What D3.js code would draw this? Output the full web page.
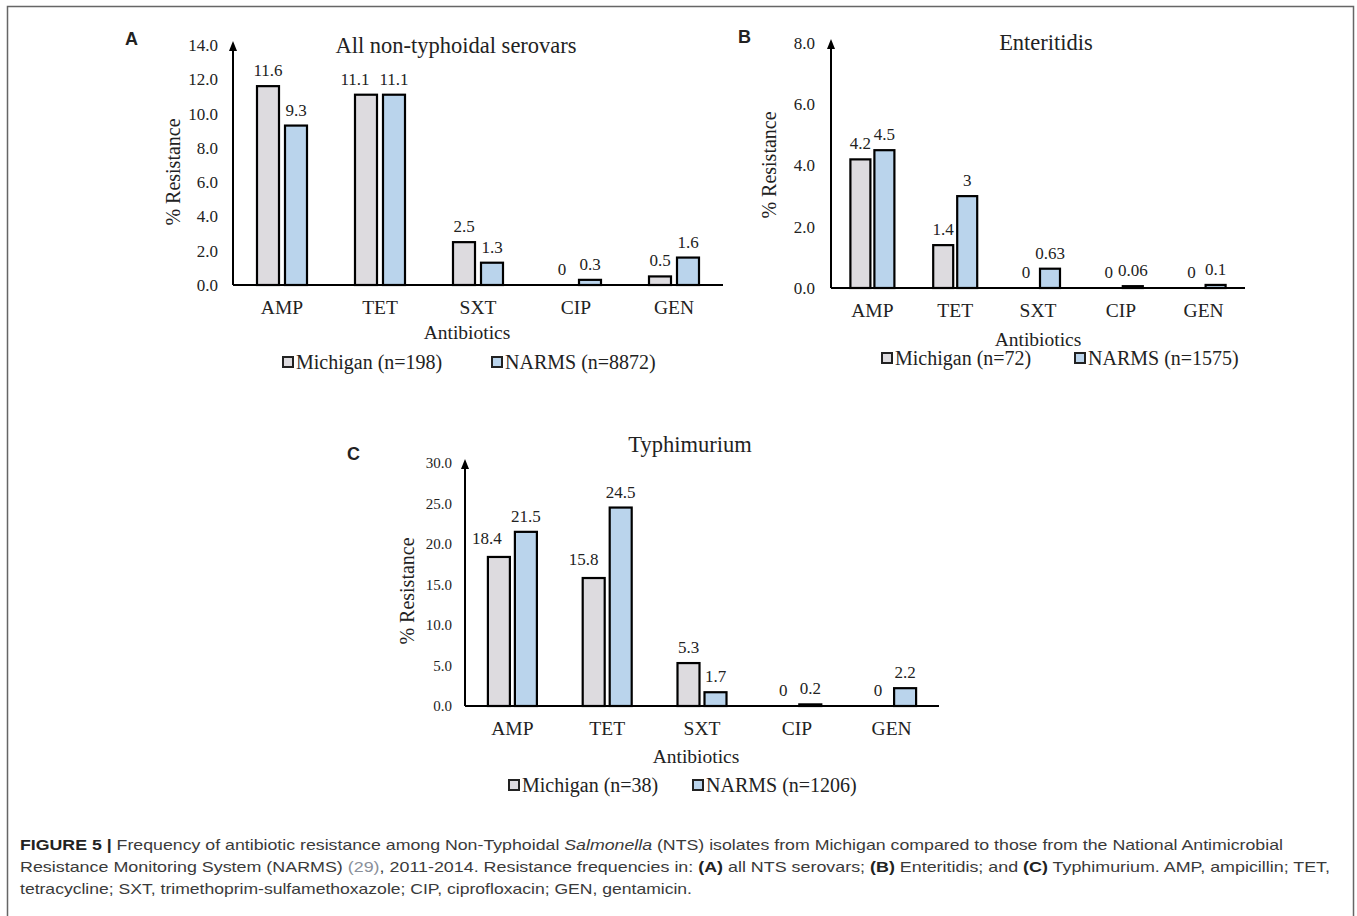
<!DOCTYPE html>
<html>
<head>
<meta charset="utf-8">
<script src="https://cdn.jsdelivr.net/npm/d3@7"></script>
<style>
  body { margin: 0; background: #fff; }
  svg text { font-family: "Liberation Serif", "Times New Roman", serif; fill: #222; }
  svg text.sans { font-family: "Liberation Sans", Arial, sans-serif; }
</style>
</head>
<body>
<div id="chart"></div>
<script>
// Data
const categories = ["AMP", "TET", "SXT", "CIP", "GEN"];
const seriesNames = ["Michigan", "NARMS"];

const allMichigan = [11.6, 11.1, 2.5, 0, 0.5];
const allNarms = [9.3, 11.1, 1.3, 0.3, 1.6];
const allLegend = ["Michigan (n=198)", "NARMS (n=8872)"];
const allTicks = [0, 2, 4, 6, 8, 10, 12, 14];

const entMichigan = [4.2, 1.4, 0, 0, 0];
const entNarms = [4.5, 3, 0.63, 0.06, 0.1];
const entLegend = ["Michigan (n=72)", "NARMS (n=1575)"];
const entTicks = [0, 2, 4, 6, 8];

const typMichigan = [18.4, 15.8, 5.3, 0, 0];
const typNarms = [21.5, 24.5, 1.7, 0.2, 2.2];
const typLegend = ["Michigan (n=38)", "NARMS (n=1206)"];
const typTicks = [0, 5, 10, 15, 20, 25, 30];

const colors = {Michigan: "#dddbdf", NARMS: "#bad4ec"};

const W = 1357, H = 916;
const svg = d3.select("#chart").append("svg")
    .attr("width", W)
    .attr("height", H);

// outer frame
svg.append("rect")
    .attr("x", 7.5).attr("y", 6.5)
    .attr("width", 1346).attr("height", 1000)
    .attr("fill", "none")
    .attr("stroke", "#666")
    .attr("stroke-width", 1.5);

const panels = [
    {
        letter: "A", title: "All non-typhoidal serovars",
        mich: allMichigan, narms: allNarms, legend: allLegend, ticks: allTicks,
        x0: 233, x1: 723, base: 285, top: 45, tickSize: 17, tickGap: 15,
        barW: 22, gap: 6,
        letterPos: [125, 45], titlePos: [456, 53],
        yLabelPos: [180, 172], xLabelPos: [467, 339], legendY: 362,
        legendX: [282, 491],
        nudge: {TET: [-11, 0]}
    },
    {
        letter: "B", title: "Enteritidis",
        mich: entMichigan, narms: entNarms, legend: entLegend, ticks: entTicks,
        x0: 831, x1: 1245, base: 288, top: 43, tickSize: 17, tickGap: 16,
        barW: 20, gap: 4,
        letterPos: [738, 43], titlePos: [1046, 50],
        yLabelPos: [776, 165], xLabelPos: [1038, 346], legendY: 358,
        legendX: [881, 1074],
        nudge: {}
    },
    {
        letter: "C", title: "Typhimurium",
        mich: typMichigan, narms: typNarms, legend: typLegend, ticks: typTicks,
        x0: 465, x1: 939, base: 706, top: 463, tickSize: 15, tickGap: 13,
        barW: 22, gap: 5,
        letterPos: [347, 460], titlePos: [690, 452],
        yLabelPos: [414, 591], xLabelPos: [696, 763], legendY: 785,
        legendX: [508, 692],
        nudge: {AMP: [-12, -3], TET: [-10, -3]}
    }
];

panels.forEach(p => {
    const g = svg.append("g");
    const rows = categories.map((c, i) => ({cat: c, Michigan: p.mich[i], NARMS: p.narms[i]}));

    const x = d3.scaleBand().domain(categories).range([p.x0, p.x1]);
    const xs = d3.scaleOrdinal().domain(seriesNames)
        .range([-(p.gap / 2 + p.barW), p.gap / 2]);
    const y = d3.scaleLinear()
        .domain([0, d3.max(p.ticks)])
        .range([p.base, p.top]);

    // bars
    const groups = g.selectAll(".grp")
        .data(rows)
        .enter().append("g")
        .attr("transform", d => `translate(${x(d.cat) + x.bandwidth() / 2},0)`);

    groups.selectAll("rect")
        .data(d => seriesNames.map(s => ({s: s, v: d[s], cat: d.cat})))
        .enter().append("rect")
        .attr("x", d => xs(d.s))
        .attr("y", d => y(d.v))
        .attr("width", p.barW)
        .attr("height", d => y(0) - y(d.v))
        .attr("fill", d => colors[d.s])
        .attr("stroke", "#000")
        .attr("stroke-width", 2.2);

    // value labels
    groups.selectAll("text.val")
        .data(d => seriesNames.map(s => ({s: s, v: d[s], cat: d.cat})))
        .enter().append("text")
        .attr("class", "val")
        .attr("x", d => xs(d.s) + p.barW / 2 + (d.s === "Michigan" && p.nudge[d.cat] ? p.nudge[d.cat][0] : 0))
        .attr("y", d => y(d.v) - 10 + (d.s === "Michigan" && p.nudge[d.cat] ? p.nudge[d.cat][1] : 0))
        .attr("text-anchor", "middle")
        .style("font-size", "17px")
        .text(d => String(d.v));

    // y axis ticks
    const yAxis = g.append("g")
        .attr("transform", `translate(${p.x0 - p.tickGap},0)`)
        .call(d3.axisLeft(y).tickValues(p.ticks).tickSize(0).tickPadding(0).tickFormat(d3.format(".1f")));
    yAxis.select(".domain").remove();
    yAxis.selectAll("text")
        .style("font-family", "'Liberation Serif', 'Times New Roman', serif")
        .style("font-size", p.tickSize + "px")
        .attr("fill", "#222");

    // y axis line with arrow head
    g.append("line")
        .attr("x1", p.x0).attr("x2", p.x0)
        .attr("y1", p.base).attr("y2", p.top + 4)
        .attr("stroke", "#000").attr("stroke-width", 2);
    g.append("path")
        .attr("d", `M${p.x0},${p.top - 4}L${p.x0 + 4},${p.top + 6}L${p.x0 - 4},${p.top + 6}Z`)
        .attr("fill", "#000");

    // x axis
    const xAxis = g.append("g")
        .attr("transform", `translate(0,${p.base})`)
        .call(d3.axisBottom(x).tickSize(0).tickPadding(15));
    xAxis.select(".domain")
        .attr("stroke", "#000").attr("stroke-width", 2)
        .attr("d", `M${p.x0},0H${p.x1}`);
    xAxis.selectAll("text")
        .style("font-family", "'Liberation Serif', 'Times New Roman', serif")
        .style("font-size", "19.5px")
        .attr("fill", "#222");

    // labels
    g.append("text")
        .attr("class", "sans")
        .attr("x", p.letterPos[0]).attr("y", p.letterPos[1])
        .style("font-size", "18px").style("font-weight", "bold")
        .attr("fill", "#111")
        .text(p.letter);

    g.append("text")
        .attr("x", p.titlePos[0]).attr("y", p.titlePos[1])
        .attr("text-anchor", "middle")
        .style("font-size", "22.5px")
        .text(p.title);

    g.append("text")
        .attr("transform", `translate(${p.yLabelPos[0]},${p.yLabelPos[1]}) rotate(-90)`)
        .attr("text-anchor", "middle")
        .style("font-size", "20px")
        .text("% Resistance");

    g.append("text")
        .attr("x", p.xLabelPos[0]).attr("y", p.xLabelPos[1])
        .attr("text-anchor", "middle")
        .style("font-size", "19.5px")
        .text("Antibiotics");

    // legend
    seriesNames.forEach((s, i) => {
        const lx = p.legendX[i];
        g.append("rect")
            .attr("x", lx + 1).attr("y", p.legendY - 5)
            .attr("width", 10).attr("height", 10)
            .attr("fill", colors[s])
            .attr("stroke", "#222").attr("stroke-width", 2);
        g.append("text")
            .attr("x", lx + 14).attr("y", p.legendY + 7)
            .style("font-size", "20px")
            .text(p.legend[i]);
    });
});

// caption
const capLines = [
    [{t: "FIGURE 5 | ", b: true}, {t: "Frequency of antibiotic resistance among Non-Typhoidal "}, {t: "Salmonella", i: true},
     {t: " (NTS) isolates from Michigan compared to those from the National Antimicrobial"}],
    [{t: "Resistance Monitoring System (NARMS) "}, {t: "(29)", c: "#8a8f99"}, {t: ", 2011-2014. Resistance frequencies in: "},
     {t: "(A)", b: true}, {t: " all NTS serovars; "}, {t: "(B)", b: true}, {t: " Enteritidis; and "}, {t: "(C)", b: true},
     {t: " Typhimurium. AMP, ampicillin; TET,"}],
    [{t: "tetracycline; SXT, trimethoprim-sulfamethoxazole; CIP, ciprofloxacin; GEN, gentamicin."}]
];
const capWidths = [1263, 1310, 672];
const capY = [850, 872, 894];

capLines.forEach((line, li) => {
    const t = svg.append("text")
        .attr("class", "sans")
        .attr("x", 20).attr("y", capY[li])
        .style("font-size", "15px")
        .attr("fill", "#333");
    line.forEach(seg => {
        t.append("tspan")
            .attr("font-weight", seg.b ? "bold" : null)
            .attr("font-style", seg.i ? "italic" : null)
            .attr("fill", seg.c || (seg.b ? "#222" : "#3a3a3a"))
            .text(seg.t);
    });
    t.attr("textLength", capWidths[li]).attr("lengthAdjust", "spacingAndGlyphs");
});
</script>
</body>
</html>
